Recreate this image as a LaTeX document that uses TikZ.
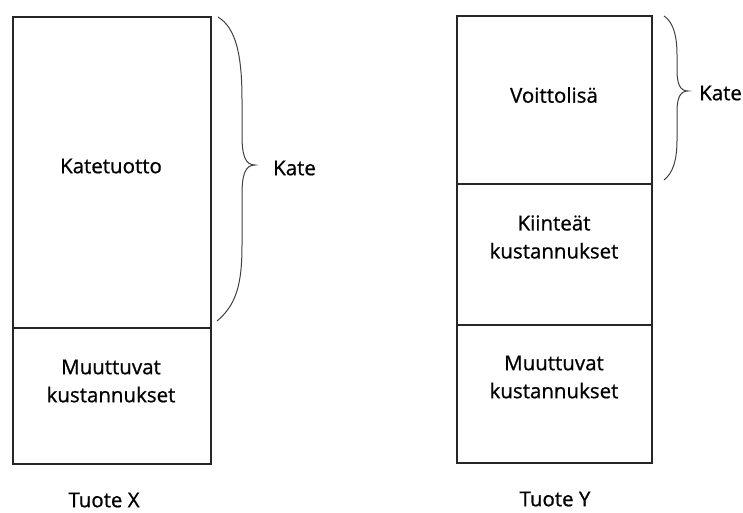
\documentclass[tikz,border=0pt]{standalone}
\usepackage{fontspec}
\setmainfont{Open Sans}
\newfontfamily\lblfont[FakeBold=0.8]{Open Sans}
\begin{document}
\begin{tikzpicture}[x=1pt,y=-1pt,
  part/.style={draw=black!85, line width=2.2pt, anchor=north west, inner sep=0pt, align=center},
  lbl/.style={font=\lblfont\fontsize{20.5}{28}\selectfont, inner sep=0pt, text=black},
  bracel/.style={draw=black!75, line width=1pt}]
\useasboundingbox (0,0) rectangle (743,513);
% Tuote X
\node[part, minimum width=198pt, minimum height=311pt] (kt) at (12,16) {};
\node[part, minimum width=198pt, minimum height=136pt] (mkx) at (12,327) {};
\node[lbl] (ktt) at (111,166) {Katetuotto};
\node[lbl, align=center] (mkxt) at (111,381) {Muuttuvat\\kustannukset};
\node[lbl] (tx) at (104,500) {Tuote X};
% Tuote Y
\node[part, minimum width=195pt, minimum height=168pt] (vl) at (456,15) {};
\node[part, minimum width=195pt, minimum height=141pt] (kk) at (456,183) {};
\node[part, minimum width=195pt, minimum height=138pt] (mky) at (456,324) {};
\node[lbl] (vlt) at (554,95) {Voittolisä};
\node[lbl, align=center] (kkt) at (554,237) {Kiinteät\\kustannukset};
\node[lbl, align=center] (mkyt) at (554,377) {Muuttuvat\\kustannukset};
\node[lbl] (ty) at (555,499) {Tuote Y};
% braces
\coordinate (b1t) at (218,17);
\coordinate (b1m) at (255,165);
\coordinate (b1b) at (217,321);
\draw[bracel] (b1t) .. controls (236,28) and (242,55) .. (242,100) -- (242,135)
  .. controls (242,155) and (245,165) .. (b1m)
  .. controls (245,165) and (242,175) .. (242,195) -- (242,245)
  .. controls (242,285) and (236,305) .. (b1b);
\node[lbl, anchor=west] (kx) at (273,168) {Kate};
\coordinate (b2t) at (664,16);
\coordinate (b2m) at (688,91);
\coordinate (b2b) at (664,180);
\draw[bracel] (b2t) .. controls (673,22) and (677,35) .. (677,55) -- (677,70)
  .. controls (677,84) and (680,91) .. (b2m)
  .. controls (680,91) and (677,98) .. (677,112) -- (677,140)
  .. controls (677,160) and (673,173) .. (b2b);
\node[lbl, anchor=west] (ky) at (699,93) {Kate};
\end{tikzpicture}
\end{document}
